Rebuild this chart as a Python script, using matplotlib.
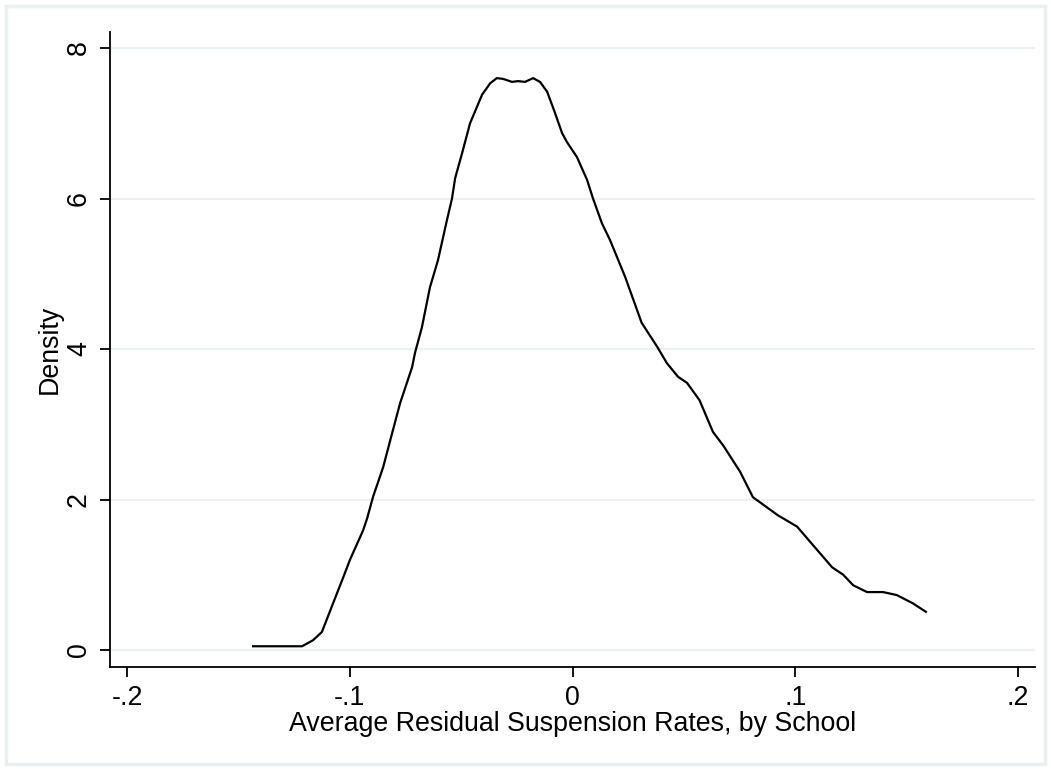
import matplotlib
matplotlib.use("Agg")
import matplotlib.pyplot as plt
from matplotlib.patches import Rectangle

# density curve
resid = [-0.1439, -0.1214, -0.1165, -0.1125, -0.1075, -0.1030, -0.0999, -0.0940,
         -0.0922, -0.0895, -0.0850, -0.0810, -0.0774, -0.0720, -0.0707, -0.0676,
         -0.0640, -0.0604, -0.0564, -0.0541, -0.0527, -0.0496, -0.0460, -0.0406,
         -0.0370, -0.0340, -0.0312, -0.0272, -0.0245, -0.0213, -0.0177, -0.0146,
         -0.0114, -0.0079, -0.0047, -0.0025, 0.0020, 0.0065, 0.0092, 0.0132,
         0.0168, 0.0236, 0.0310, 0.0380, 0.0424, 0.0474, 0.0514, 0.0570,
         0.0630, 0.0676, 0.0752, 0.0810, 0.0922, 0.1008, 0.1098, 0.1165,
         0.1215, 0.1260, 0.1322, 0.1394, 0.1456, 0.1528, 0.1590]
density = [0.05, 0.05, 0.13, 0.24, 0.62, 0.96, 1.20, 1.59,
           1.75, 2.04, 2.43, 2.88, 3.28, 3.76, 3.95, 4.29,
           4.82, 5.18, 5.71, 6.00, 6.27, 6.60, 7.00, 7.38,
           7.53, 7.60, 7.59, 7.55, 7.56, 7.55, 7.60, 7.55,
           7.42, 7.14, 6.87, 6.75, 6.55, 6.25, 6.00, 5.67,
           5.45, 4.96, 4.35, 4.03, 3.81, 3.63, 3.55, 3.32,
           2.90, 2.72, 2.37, 2.03, 1.79, 1.64, 1.33, 1.10,
           1.00, 0.86, 0.77, 0.77, 0.73, 0.62, 0.50]

xticks = [-0.2, -0.1, 0, 0.1, 0.2]
xtick_labels = ["-.2", "-.1", "0", ".1", ".2"]
yticks = [0, 2, 4, 6, 8]

plt.rcParams['font.family'] = ['Liberation Sans', 'DejaVu Sans']

fig = plt.figure(figsize=(10.51, 7.69), dpi=100)
fig.patches.append(Rectangle((0.006, 0.007), 0.988, 0.985, transform=fig.transFigure,
                             fill=False, edgecolor='#e8eff1', linewidth=2.5))
ax = fig.add_axes([0.1047, 0.1326, 0.8801, 0.8258])

ax.plot(resid, density, color='black', linewidth=1.6,
        solid_joinstyle='round', solid_capstyle='butt')

ax.set_xlim(-0.2076, 0.2076)
ax.set_ylim(-0.226, 8.213)
ax.set_xticks(xticks)
ax.set_xticklabels(xtick_labels)
ax.set_yticks(yticks)
ax.set_yticklabels([str(t) for t in yticks], rotation=90, va='center')
ax.grid(axis='y', color='#eaf1f3', linewidth=1.5)
ax.set_axisbelow(True)

for s in ['top', 'right']:
    ax.spines[s].set_visible(False)
for s in ['left', 'bottom']:
    ax.spines[s].set_linewidth(1.3)
ax.tick_params(length=7, width=1.3, labelsize=19.3, pad=6)

ax.set_xlabel("Average Residual Suspension Rates, by School", fontsize=19.3, labelpad=0)
ax.set_ylabel("Density", fontsize=19.3, labelpad=2)

fig.savefig("out.png", dpi=100)
